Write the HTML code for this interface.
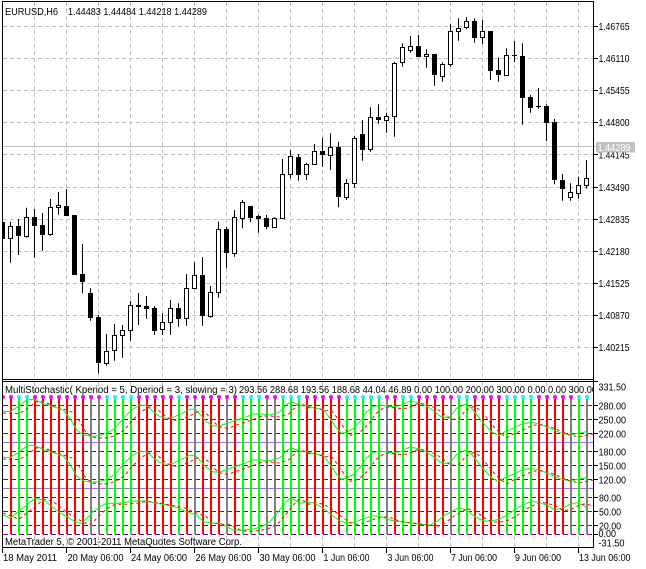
<!DOCTYPE html>
<html><head><meta charset="utf-8"><style>html,body{margin:0;padding:0;background:#fff}svg{display:block}</style></head>
<body>
<svg width="646" height="569" xmlns="http://www.w3.org/2000/svg" font-family="Liberation Sans, sans-serif" font-size="10">
<rect width="646" height="569" fill="#fff"/>
<defs>
<clipPath id="cp"><rect x="3" y="2" width="590" height="377"/></clipPath>
<clipPath id="ci"><rect x="3" y="382" width="590" height="165"/></clipPath>
<clipPath id="ct"><rect x="0" y="382" width="593" height="20"/></clipPath>
</defs>
<!-- grid -->
<g stroke="#c0c0c0" stroke-dasharray="4,3" fill="none">
<path d="M3 26.5H593M3 58.5H593M3 90.5H593M3 122.5H593M3 154.5H593M3 187.5H593M3 219.5H593M3 251.5H593M3 283.5H593M3 315.5H593M3 347.5H593"/>
<path d="M34.5 2V379M66.5 2V379M98.5 2V379M130.5 2V379M162.5 2V379M194.5 2V379M226.5 2V379M258.5 2V379M290.5 2V379M322.5 2V379M354.5 2V379M386.5 2V379M418.5 2V379M450.5 2V379M482.5 2V379M514.5 2V379M546.5 2V379M578.5 2V379"/>
<path d="M34.5 382V547M66.5 382V547M98.5 382V547M130.5 382V547M162.5 382V547M194.5 382V547M226.5 382V547M258.5 382V547M290.5 382V547M322.5 382V547M354.5 382V547M386.5 382V547M418.5 382V547M450.5 382V547M482.5 382V547M514.5 382V547M546.5 382V547M578.5 382V547"/>
</g>
<path d="M3 146.5H596" stroke="#c0c0c0"/>
<!-- candles -->
<g clip-path="url(#cp)">
<path stroke="#000" fill="none" d="M2.5 221.7V240M10.5 221.7V262.7M18.5 219V255M26.5 207.7V237.7M34.5 209V257.7M42.5 213V251M50.5 199V235.7M58.5 192V214.7M66.5 189V215.7M74.5 215V274.7M82.5 244V293.3M90.5 288.3V320.7M98.5 315V373.3M106.5 334V365.7M114.5 324V360.7M122.5 325V357.7M130.5 301V340.7M138.5 293V325M146.5 296V318.7M154.5 306V335M162.5 313.3V335M170.5 300V335M178.5 303.3V326.7M186.5 274V325.7M194.5 262.3V288.3M202.5 257V325.7M210.5 286V317.7M218.5 221.7V297.7M226.5 227V268.3M234.5 210V256.7M242.5 200V228.3M250.5 206.3V222.3M258.5 215V232.7M266.5 215V229.3M274.5 217.3V228M282.5 159V218.3M290.5 150V178.3M298.5 154V180.7M306.5 162.7V180M314.5 144V164.3M322.5 137.7V166.7M330.5 133.3V170M338.5 141.7V207.3M346.5 179V200M354.5 136V187.7M362.5 120V160.7M370.5 107.3V151.7M378.5 104.3V123.7M386.5 112.7V132.7M394.5 61.7V136.7M402.5 43.3V66.7M410.5 36V52.7M418.5 35V57.3M426.5 49.3V67.7M434.5 54V85.7M442.5 62.3V81.7M450.5 24.3V66.7M458.5 18.3V40.7M466.5 17.3V29.3M474.5 18.3V42.7M482.5 20V44M490.5 31V80M498.5 57.3V81.7M506.5 48.3V74.7M514.5 41V62M522.5 43.3V124.7M530.5 95V112.7M538.5 88V108.7M546.5 104.3V141M554.5 119V184.3M562.5 174V200.7M570.5 183.3V200.7M578.5 176.7V198.7M586.5 160V188.7"/>
<g fill="#000">
<rect x="0" y="222" width="5" height="17"/><rect x="16" y="226" width="5" height="10"/><rect x="32" y="217" width="5" height="9"/><rect x="40" y="225" width="5" height="10"/><rect x="64" y="206" width="5" height="10"/><rect x="72" y="215" width="5" height="60"/><rect x="80" y="274" width="5" height="8"/><rect x="88" y="293" width="5" height="25"/><rect x="96" y="317" width="5" height="46"/><rect x="136" y="305" width="5" height="2"/><rect x="144" y="306" width="5" height="3"/><rect x="152" y="308" width="5" height="23"/><rect x="176" y="308" width="5" height="11"/><rect x="200" y="275" width="5" height="41"/><rect x="224" y="229" width="5" height="24"/><rect x="248" y="206" width="5" height="12"/><rect x="256" y="216" width="5" height="3"/><rect x="264" y="218" width="5" height="9"/><rect x="296" y="157" width="5" height="18"/><rect x="320" y="151" width="5" height="4"/><rect x="336" y="147" width="5" height="50"/><rect x="360" y="134" width="5" height="16"/><rect x="376" y="117" width="5" height="3"/><rect x="416" y="46" width="5" height="11"/><rect x="432" y="54" width="5" height="21"/><rect x="472" y="21" width="5" height="17"/><rect x="488" y="31" width="5" height="40"/><rect x="496" y="70" width="5" height="5"/><rect x="520" y="56" width="5" height="42"/><rect x="528" y="97" width="5" height="11"/><rect x="544" y="106" width="5" height="17"/><rect x="552" y="122" width="5" height="58"/><rect x="560" y="180" width="5" height="9"/><rect x="512" y="55" width="5" height="1"/><rect x="536" y="106" width="5" height="1"/>
</g>
<g fill="#fff" stroke="#000">
<rect x="8.5" y="226.5" width="4" height="12"/><rect x="24.5" y="217.5" width="4" height="19"/><rect x="48.5" y="207.5" width="4" height="27"/><rect x="56.5" y="205.5" width="4" height="2"/><rect x="104.5" y="351.5" width="4" height="12"/><rect x="112.5" y="335.5" width="4" height="15"/><rect x="120.5" y="330.5" width="4" height="5"/><rect x="128.5" y="305.5" width="4" height="25"/><rect x="160.5" y="322.5" width="4" height="7"/><rect x="168.5" y="308.5" width="4" height="14"/><rect x="184.5" y="288.5" width="4" height="30"/><rect x="192.5" y="275.5" width="4" height="13"/><rect x="208.5" y="292.5" width="4" height="24"/><rect x="216.5" y="229.5" width="4" height="63"/><rect x="232.5" y="217.5" width="4" height="36"/><rect x="240.5" y="202.5" width="4" height="16"/><rect x="272.5" y="218.5" width="4" height="9"/><rect x="280.5" y="174.5" width="4" height="44"/><rect x="288.5" y="156.5" width="4" height="18"/><rect x="304.5" y="164.5" width="4" height="10"/><rect x="312.5" y="151.5" width="4" height="13"/><rect x="328.5" y="147.5" width="4" height="8"/><rect x="344.5" y="183.5" width="4" height="14"/><rect x="352.5" y="138.5" width="4" height="45"/><rect x="368.5" y="117.5" width="4" height="32"/><rect x="384.5" y="116.5" width="4" height="4"/><rect x="392.5" y="63.5" width="4" height="53"/><rect x="400.5" y="47.5" width="4" height="15"/><rect x="408.5" y="46.5" width="4" height="4"/><rect x="424.5" y="54.5" width="4" height="2"/><rect x="440.5" y="64.5" width="4" height="12"/><rect x="448.5" y="31.5" width="4" height="33"/><rect x="456.5" y="28.5" width="4" height="3"/><rect x="464.5" y="21.5" width="4" height="6"/><rect x="480.5" y="31.5" width="4" height="6"/><rect x="504.5" y="55.5" width="4" height="20"/><rect x="568.5" y="192.5" width="4" height="5"/><rect x="576.5" y="185.5" width="4" height="8"/><rect x="584.5" y="178.5" width="4" height="7"/>
</g>
</g>
<!-- indicator -->
<g clip-path="url(#ci)">
<path stroke="#800080" stroke-dasharray="5,3" fill="none" d="M3 405.5H593M3 419.5H593M3 433.5H593M3 451.5H593M3 465.5H593M3 479.5H593M3 497.5H593M3 511.5H593M3 525.5H593M3 534.5H593"/>
<path stroke="#9370db" fill="none" d="M3 442.5H593M3 488.5H593"/>
<path stroke="#ff0000" stroke-width="2" fill="none" d="M11 397V534M35 397V534M43 397V534M51 397V534M59 397V534M67 397V534M75 397V534M83 397V534M139 397V534M147 397V534M155 397V534M163 397V534M171 397V534M187 397V534M203 397V534M211 397V534M219 397V534M235 397V534M307 397V534M315 397V534M323 397V534M331 397V534M339 397V534M395 397V534M419 397V534M427 397V534M435 397V534M443 397V534M475 397V534M483 397V534M491 397V534M499 397V534M539 397V534M547 397V534M555 397V534M563 397V534"/>
<path stroke="#00ff00" stroke-width="2" fill="none" d="M19 397V534M27 397V534M107 397V534M115 397V534M123 397V534M131 397V534M179 397V534M243 397V534M251 397V534M259 397V534M283 397V534M291 397V534M299 397V534M347 397V534M355 397V534M363 397V534M371 397V534M379 397V534M403 397V534M411 397V534M459 397V534M467 397V534M507 397V534M515 397V534M523 397V534M531 397V534M579 397V534"/>
<path stroke="#808080" stroke-width="2" fill="none" d="M91 397V534M99 397V534M195 397V534M227 397V534M267 397V534M275 397V534M387 397V534M451 397V534M571 397V534M587 397V534"/>
<g fill="none">
<path id="tp" stroke="#00ff00" d="M2.7 411L10 411.7L18.3 406.7L26.7 400L33.3 399.3L43.3 403.3L53.3 406.7L63.3 410L70 418.3L76.7 430L83.3 435L90 436L98.3 436L106.7 433.3L115 428.3L123.3 418.3L131.7 410L140 405L146.7 405.7L153.3 411.7L160 416.7L166.7 418.3L173.3 417.3L181.7 413.3L190 409.3L195 409.3L200 414.3L206.7 421.7L213.3 426L220 426L226.7 423.3L236.7 420L246.7 416.7L253.3 414L261.7 414L270 415L280 411.7L288.3 403.3L293.3 402.3L300 405.7L306.7 405.7L315 408.3L323.3 409.3L330 418.3L336.7 428.3L341.7 433.3L346.7 432.3L353.3 428.3L360 421.7L366.7 411.7L373.3 406.7L380 405L386.7 406L393.3 406.7L400 405.7L410 401L416.7 402.3L426.7 406L433.3 410.5L440 416L446 417.5L450 416.7L456.7 408.3L465 404.3L471.7 408.3L478.3 416.7L485 425L491.7 431.7L498.3 435.7L505 431.7L513.3 428.3L523.3 423.3L533.3 422.7L540 424.3L550 428.3L560 432.7L570 435L578.3 433.3L586 431.7"/>
<path stroke="#00ff00" transform="translate(0,46)" d="M2.7 411L10 411.7L18.3 406.7L26.7 400L33.3 399.3L43.3 403.3L53.3 406.7L63.3 410L70 418.3L76.7 430L83.3 435L90 436L98.3 436L106.7 433.3L115 428.3L123.3 418.3L131.7 410L140 405L146.7 405.7L153.3 411.7L160 416.7L166.7 418.3L173.3 417.3L181.7 413.3L190 409.3L195 409.3L200 414.3L206.7 421.7L213.3 426L220 426L226.7 423.3L236.7 420L246.7 416.7L253.3 414L261.7 414L270 415L280 411.7L288.3 403.3L293.3 402.3L300 405.7L306.7 405.7L315 408.3L323.3 409.3L330 418.3L336.7 428.3L341.7 433.3L346.7 432.3L353.3 428.3L360 421.7L366.7 411.7L373.3 406.7L380 405L386.7 406L393.3 406.7L400 405.7L410 401L416.7 402.3L426.7 406L433.3 410.5L440 416L446 417.5L450 416.7L456.7 408.3L465 404.3L471.7 408.3L478.3 416.7L485 425L491.7 431.7L498.3 435.7L505 431.7L513.3 428.3L523.3 423.3L533.3 422.7L540 424.3L550 428.3L560 432.7L570 435L578.3 433.3L586 431.7"/>
<path stroke="#00ff00" d="M3.3 515L10 518.3L18.3 511.7L26.7 505L35 498.3L43.3 500L50 505L58.3 511.7L66.7 516.7L75 521.7L81.7 523.3L86.7 518.3L93.3 511.7L100 506.7L106.7 503.3L116.7 503.3L126.7 502.3L136.7 500.7L146.7 501L156.7 503.3L166.7 505L176.7 507.3L186.7 511.7L196.7 515L203.3 521.7L213.3 523.3L220 523.3L233.3 530L243.3 530.3L253.3 529L261.7 526.7L270 521.7L278.3 511.7L285 503.3L290 498.3L295 500L300 503.3L306.7 501.7L315 503.3L323.3 508.3L331.7 515L340 521L346.7 523.3L353.3 522.7L360 520L366.7 517.7L373.3 515.7L381.7 516.7L390 520L400 521.7L410 522.7L420 524.3L430 525L436.7 521.7L445 515L451.7 511.7L458.3 507.7L466.7 510L475 516.7L483.3 521L491.7 521L500 519L508.3 514.3L516.7 508.3L525 504.3L531.7 501L538.3 502.3L546.7 505L555 510L563.3 507.7L570 504.3L576.7 502.7L583.3 505L586.7 508.3"/>
<g stroke="#ff0000" stroke-dasharray="3,3">
<path transform="translate(9,2)" d="M-6 411L10 411.7L18.3 406.7L26.7 400L33.3 399.3L43.3 403.3L53.3 406.7L63.3 410L70 418.3L76.7 430L83.3 435L90 436L98.3 436L106.7 433.3L115 428.3L123.3 418.3L131.7 410L140 405L146.7 405.7L153.3 411.7L160 416.7L166.7 418.3L173.3 417.3L181.7 413.3L190 409.3L195 409.3L200 414.3L206.7 421.7L213.3 426L220 426L226.7 423.3L236.7 420L246.7 416.7L253.3 414L261.7 414L270 415L280 411.7L288.3 403.3L293.3 402.3L300 405.7L306.7 405.7L315 408.3L323.3 409.3L330 418.3L336.7 428.3L341.7 433.3L346.7 432.3L353.3 428.3L360 421.7L366.7 411.7L373.3 406.7L380 405L386.7 406L393.3 406.7L400 405.7L410 401L416.7 402.3L426.7 406L433.3 410.5L440 416L446 417.5L450 416.7L456.7 408.3L465 404.3L471.7 408.3L478.3 416.7L485 425L491.7 431.7L498.3 435.7L505 431.7L513.3 428.3L523.3 423.3L533.3 422.7L540 424.3L550 428.3L560 432.7L570 435L578.3 433.3L586 431.7"/>
<path transform="translate(9,48)" d="M-6 411L10 411.7L18.3 406.7L26.7 400L33.3 399.3L43.3 403.3L53.3 406.7L63.3 410L70 418.3L76.7 430L83.3 435L90 436L98.3 436L106.7 433.3L115 428.3L123.3 418.3L131.7 410L140 405L146.7 405.7L153.3 411.7L160 416.7L166.7 418.3L173.3 417.3L181.7 413.3L190 409.3L195 409.3L200 414.3L206.7 421.7L213.3 426L220 426L226.7 423.3L236.7 420L246.7 416.7L253.3 414L261.7 414L270 415L280 411.7L288.3 403.3L293.3 402.3L300 405.7L306.7 405.7L315 408.3L323.3 409.3L330 418.3L336.7 428.3L341.7 433.3L346.7 432.3L353.3 428.3L360 421.7L366.7 411.7L373.3 406.7L380 405L386.7 406L393.3 406.7L400 405.7L410 401L416.7 402.3L426.7 406L433.3 410.5L440 416L446 417.5L450 416.7L456.7 408.3L465 404.3L471.7 408.3L478.3 416.7L485 425L491.7 431.7L498.3 435.7L505 431.7L513.3 428.3L523.3 423.3L533.3 422.7L540 424.3L550 428.3L560 432.7L570 435L578.3 433.3L586 431.7"/>
<path transform="translate(9,1)" d="M-6 512L10 518.3L18.3 511.7L26.7 505L35 498.3L43.3 500L50 505L58.3 511.7L66.7 516.7L75 521.7L81.7 523.3L86.7 518.3L93.3 511.7L100 506.7L106.7 503.3L116.7 503.3L126.7 502.3L136.7 500.7L146.7 501L156.7 503.3L166.7 505L176.7 507.3L186.7 511.7L196.7 515L203.3 521.7L213.3 523.3L220 523.3L233.3 530L243.3 530.3L253.3 529L261.7 526.7L270 521.7L278.3 511.7L285 503.3L290 498.3L295 500L300 503.3L306.7 501.7L315 503.3L323.3 508.3L331.7 515L340 521L346.7 523.3L353.3 522.7L360 520L366.7 517.7L373.3 515.7L381.7 516.7L390 520L400 521.7L410 522.7L420 524.3L430 525L436.7 521.7L445 515L451.7 511.7L458.3 507.7L466.7 510L475 516.7L483.3 521L491.7 521L500 519L508.3 514.3L516.7 508.3L525 504.3L531.7 501L538.3 502.3L546.7 505L555 510L563.3 507.7L570 504.3L576.7 502.7L583.3 505L586.7 508.3"/>
</g>
</g>
<path stroke="#ff00ff" stroke-width="4" stroke-linecap="round" fill="none" d="M3 397h0M11 397h0M35 397h0M43 397h0M51 397h0M59 397h0M67 397h0M75 397h0M83 397h0M91 397h0M99 397h0M139 397h0M147 397h0M155 397h0M163 397h0M171 397h0M187 397h0M195 397h0M203 397h0M211 397h0M219 397h0M227 397h0M235 397h0M267 397h0M275 397h0M307 397h0M315 397h0M323 397h0M331 397h0M339 397h0M387 397h0M395 397h0M419 397h0M427 397h0M435 397h0M443 397h0M451 397h0M475 397h0M483 397h0M491 397h0M499 397h0M539 397h0M547 397h0M555 397h0M563 397h0M571 397h0"/>
<path stroke="#00ffff" stroke-width="4" stroke-linecap="round" fill="none" d="M19 397h0M27 397h0M107 397h0M115 397h0M123 397h0M131 397h0M179 397h0M243 397h0M251 397h0M259 397h0M283 397h0M291 397h0M299 397h0M347 397h0M355 397h0M363 397h0M371 397h0M379 397h0M403 397h0M411 397h0M459 397h0M467 397h0M507 397h0M515 397h0M523 397h0M531 397h0M579 397h0M587 397h0"/>
</g>
<!-- frame -->
<path stroke="#000" fill="none" d="M2.5 1V553M593.5 1V548M2 1.5H594M2 379.5H594M2 381.5H594M2 547.5H594"/>
<path stroke="#000" fill="none" d="M594 26.5h4M594 58.5h4M594 90.5h4M594 122.5h4M594 154.5h4M594 187.5h4M594 219.5h4M594 251.5h4M594 283.5h4M594 315.5h4M594 347.5h4M594 381.5h4M594 405.5h4M594 419.5h4M594 433.5h4M594 451.5h4M594 465.5h4M594 479.5h4M594 497.5h4M594 511.5h4M594 525.5h4M594 534.5h4M66.5 548v5M130.5 548v5M194.5 548v5M258.5 548v5M322.5 548v5M386.5 548v5M450.5 548v5M514.5 548v5M578.5 548v5"/>
<!-- texts -->
<g fill="#000" lengthAdjust="spacingAndGlyphs">
<text x="5" y="15" textLength="53" lengthAdjust="spacingAndGlyphs">EURUSD,H6</text>
<text x="68" y="15" textLength="139" lengthAdjust="spacingAndGlyphs">1.44483 1.44484 1.44218 1.44289</text>
<text x="5" y="393" textLength="232" lengthAdjust="spacingAndGlyphs">MultiStochastic( Kperiod = 5, Dperiod = 3, slowing = 3)</text>
<g clip-path="url(#ct)"><text x="239" y="393" textLength="358" lengthAdjust="spacingAndGlyphs">293.56 288.68 193.56 188.68 44.04 46.89 0.00 100.00 200.00 300.00 0.00 0.00 300.00</text></g>
<text x="5" y="545" textLength="237" lengthAdjust="spacingAndGlyphs">MetaTrader 5, © 2001-2011 MetaQuotes Software Corp.</text>
<text x="598.5" y="30" textLength="31" lengthAdjust="spacingAndGlyphs">1.46765</text>
<text x="598.5" y="62" textLength="31" lengthAdjust="spacingAndGlyphs">1.46110</text>
<text x="598.5" y="94" textLength="31" lengthAdjust="spacingAndGlyphs">1.45455</text>
<text x="598.5" y="126" textLength="31" lengthAdjust="spacingAndGlyphs">1.44800</text>
<text x="598.5" y="158.5" textLength="31" lengthAdjust="spacingAndGlyphs">1.44145</text>
<text x="598.5" y="191" textLength="31" lengthAdjust="spacingAndGlyphs">1.43490</text>
<text x="598.5" y="223" textLength="31" lengthAdjust="spacingAndGlyphs">1.42835</text>
<text x="598.5" y="255" textLength="31" lengthAdjust="spacingAndGlyphs">1.42180</text>
<text x="598.5" y="287" textLength="31" lengthAdjust="spacingAndGlyphs">1.41525</text>
<text x="598.5" y="319" textLength="31" lengthAdjust="spacingAndGlyphs">1.40870</text>
<text x="598.5" y="351" textLength="31" lengthAdjust="spacingAndGlyphs">1.40215</text>
<rect x="596" y="142" width="39" height="10.5" fill="#c0c0c0"/>
<text x="597.5" y="151" fill="#fff" textLength="33" lengthAdjust="spacingAndGlyphs">1.44289</text>
<text x="598.5" y="390.5" textLength="27.5" lengthAdjust="spacingAndGlyphs">331.50</text>
<text x="598.5" y="409.5" textLength="27.5" lengthAdjust="spacingAndGlyphs">280.00</text>
<text x="598.5" y="423.5" textLength="27.5" lengthAdjust="spacingAndGlyphs">250.00</text>
<text x="598.5" y="437.5" textLength="27.5" lengthAdjust="spacingAndGlyphs">220.00</text>
<text x="598.5" y="455.5" textLength="27.5" lengthAdjust="spacingAndGlyphs">180.00</text>
<text x="598.5" y="469.5" textLength="27.5" lengthAdjust="spacingAndGlyphs">150.00</text>
<text x="598.5" y="483.5" textLength="27.5" lengthAdjust="spacingAndGlyphs">120.00</text>
<text x="599" y="501.5" textLength="22" lengthAdjust="spacingAndGlyphs">80.00</text>
<text x="599" y="515.5" textLength="22" lengthAdjust="spacingAndGlyphs">50.00</text>
<text x="599" y="529.5" textLength="22" lengthAdjust="spacingAndGlyphs">20.00</text>
<text x="598.5" y="537" textLength="17.5" lengthAdjust="spacingAndGlyphs">0.00</text>
<text x="598.5" y="546.5" textLength="26" lengthAdjust="spacingAndGlyphs">-31.50</text>
<text x="3" y="561" textLength="54" lengthAdjust="spacingAndGlyphs">18 May 2011</text>
<text x="67.5" y="561" textLength="56" lengthAdjust="spacingAndGlyphs">20 May 06:00</text>
<text x="131" y="561" textLength="56" lengthAdjust="spacingAndGlyphs">24 May 06:00</text>
<text x="195.5" y="561" textLength="56" lengthAdjust="spacingAndGlyphs">26 May 06:00</text>
<text x="259.5" y="561" textLength="56" lengthAdjust="spacingAndGlyphs">30 May 06:00</text>
<text x="323.5" y="561" textLength="46" lengthAdjust="spacingAndGlyphs">1 Jun 06:00</text>
<text x="387.5" y="561" textLength="46" lengthAdjust="spacingAndGlyphs">3 Jun 06:00</text>
<text x="451" y="561" textLength="46" lengthAdjust="spacingAndGlyphs">7 Jun 06:00</text>
<text x="515" y="561" textLength="46" lengthAdjust="spacingAndGlyphs">9 Jun 06:00</text>
<text x="579" y="561" textLength="51.5" lengthAdjust="spacingAndGlyphs">13 Jun 06:00</text>
</g>
</svg>
</body></html>
